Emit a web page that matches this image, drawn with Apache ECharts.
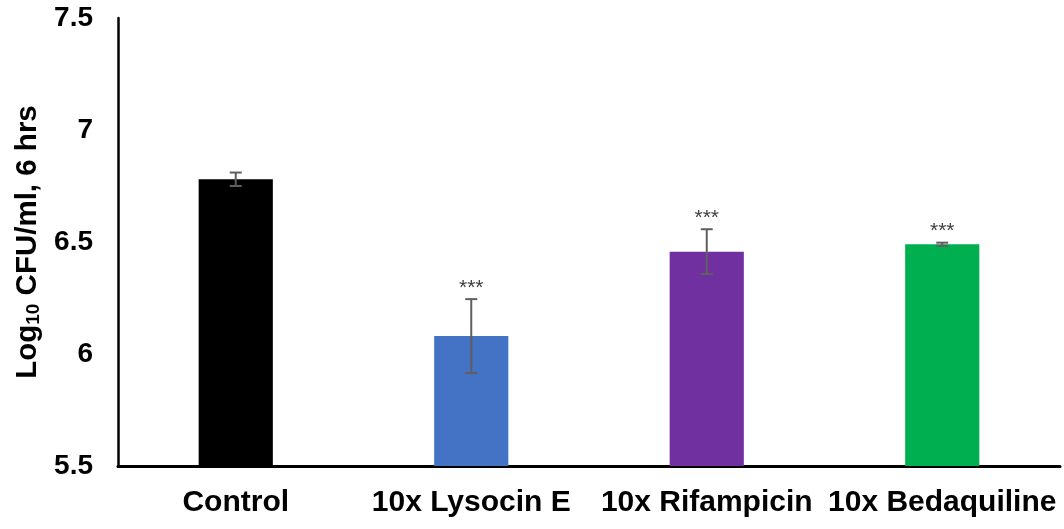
<!DOCTYPE html>
<html>
<head>
<meta charset="utf-8">
<script src="https://cdn.jsdelivr.net/npm/echarts@6/dist/echarts.min.js"></script>
<style>
  html, body { margin: 0; padding: 0; background: #fff; }
  #chart { width: 1064px; height: 529px; }
</style>
</head>
<body>
<div id="chart"></div>
<script>
// Log10 CFU/ml after 6 hours of treatment
const categories = ['Control', '10x Lysocin E', '10x Rifampicin', '10x Bedaquiline'];
const meanValues = [6.78, 6.08, 6.457, 6.49];
const errorValues = [0.03, 0.165, 0.1, 0.007];
const significance = ['', '***', '***', '***'];
const barColors = ['#000000', '#4472C4', '#7030A0', '#00B050'];

const errorData = categories.map((c, i) => [i, meanValues[i] - errorValues[i], meanValues[i] + errorValues[i], significance[i]]);

const FONT = 'Liberation Sans';
const chart = echarts.init(document.getElementById('chart'));
chart.setOption({
  animation: false,
  grid: { left: 118, right: 4, top: 18, bottom: 63 },
  graphic: [{
    type: 'text',
    x: 28, y: 242,
    rotation: Math.PI / 2,
    style: {
      text: '{a|Log}{b|10}{a| CFU/ml, 6 hrs}',
      align: 'center', verticalAlign: 'middle',
      rich: {
        a: { fontFamily: FONT, fontWeight: 'bold', fontSize: 29.5, fill: '#000' },
        b: { fontFamily: FONT, fontWeight: 'bold', fontSize: 19, fill: '#000', verticalAlign: 'bottom', padding: [10, 0, 0, 0] }
      }
    }
  }],
  xAxis: {
    type: 'category',
    data: categories,
    axisLine: { lineStyle: { color: '#000', width: 3 } },
    axisTick: { show: false },
    axisLabel: {
      color: '#000', fontFamily: FONT, fontWeight: 'bold',
      fontSize: 30, margin: 22, interval: 0
    }
  },
  yAxis: {
    type: 'value',
    min: 5.5, max: 7.5, interval: 0.5,
    splitLine: { show: false },
    axisLine: { show: true, lineStyle: { color: '#000', width: 2.5 } },
    axisTick: { show: false },
    axisLabel: {
      color: '#000', fontFamily: FONT, fontWeight: 'bold',
      fontSize: 28, margin: 25
    }
  },
  series: [
    {
      type: 'bar',
      barWidth: '31.5%',
      data: meanValues.map((v, i) => ({ value: v, itemStyle: { color: barColors[i] } }))
    },
    {
      type: 'custom',
      data: errorData,
      z: 10,
      renderItem: function (params, api) {
        const x = api.value(0);
        const lo = api.coord([x, api.value(1)]);
        const hi = api.coord([x, api.value(2)]);
        const half = 6;
        const style = { stroke: '#5f5f5f', lineWidth: 2 };
        const children = [
          { type: 'line', shape: { x1: lo[0], y1: lo[1], x2: hi[0], y2: hi[1] }, style: style },
          { type: 'line', shape: { x1: lo[0] - half, y1: lo[1], x2: lo[0] + half, y2: lo[1] }, style: style },
          { type: 'line', shape: { x1: hi[0] - half, y1: hi[1], x2: hi[0] + half, y2: hi[1] }, style: style }
        ];
        const sig = api.value(3);
        if (sig) {
          children.push({
            type: 'text',
            style: {
              text: sig, x: hi[0], y: hi[1] - 11,
              align: 'center', verticalAlign: 'middle',
              fill: '#404040', fontFamily: FONT, fontSize: 21
            }
          });
        }
        return { type: 'group', children: children };
      }
    }
  ]
});
</script>
</body>
</html>
